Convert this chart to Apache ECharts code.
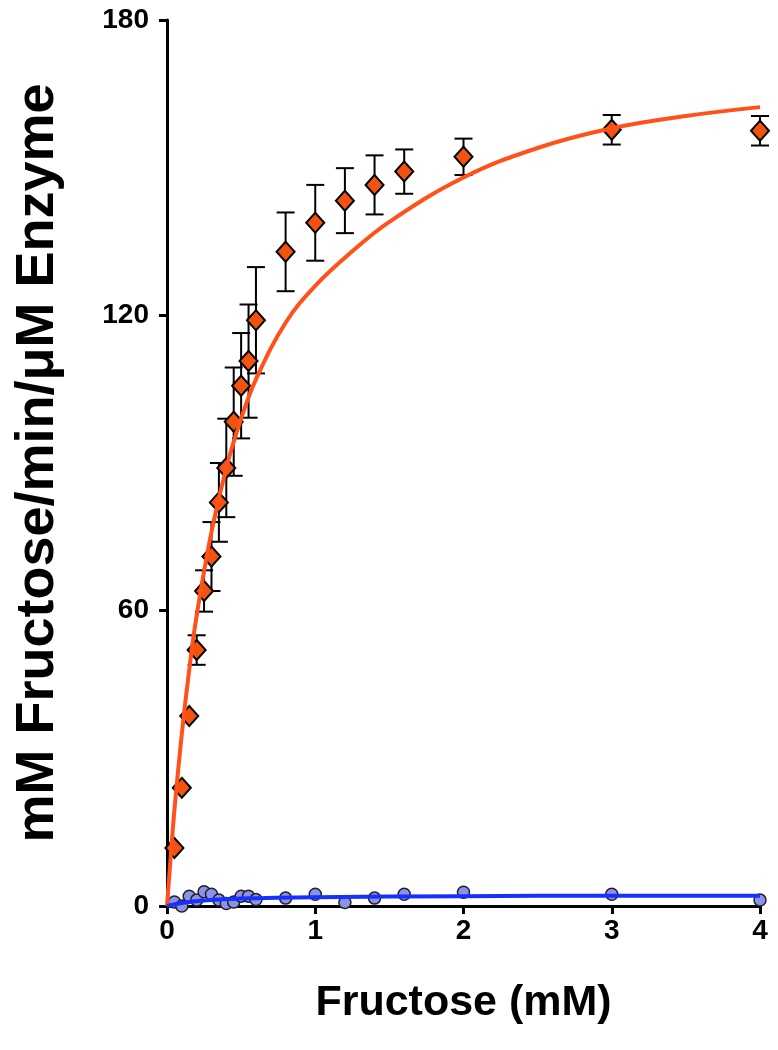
<!DOCTYPE html>
<html>
<head>
<meta charset="utf-8">
<script src="https://cdn.jsdelivr.net/npm/echarts@6/dist/echarts.min.js"></script>
<style>html,body{margin:0;padding:0;background:#fff}#c{width:778px;height:1050px}</style>
</head>
<body>
<div id="c"></div>
<script>
// Orange diamonds with error bars
const orangeX = [0.05,0.1,0.15,0.2,0.25,0.3,0.35,0.4,0.45,0.5,0.55,0.6,0.8,1.0,1.2,1.4,1.6,2,3,4];
const orangeY = [11.8,24,38.6,52,64,71,82,89,98.4,105.7,110.7,119,132.9,138.8,143.3,146.5,149.2,152.2,157.7,157.5];
const orangeErr = [0,0,0,3,4.2,7,8,10,11,10.7,11.5,10.8,8,7.7,6.6,6,4.5,3.7,3,3];
// Fitted curve
const orangeFitX = [0,0.03,0.05,0.1,0.15,0.2,0.3,0.4,0.5,0.6,0.8,1.0,1.25,1.5,2,2.5,3,3.5,4];
const orangeFitY = [0,12,19.5,35,48,59,76,89,99,107,118.5,126,133,139,148,154,158,160.5,162.3];
// Blue circles
const blueX = [0.05,0.1,0.15,0.2,0.25,0.3,0.35,0.4,0.45,0.5,0.55,0.6,0.8,1.0,1.2,1.4,1.6,2,3,4];
const blueY = [0.8,0,2.0,1.2,2.9,2.4,1.2,0.5,0.8,2.0,2.0,1.3,1.6,2.4,0.7,1.6,2.4,2.8,2.4,1.2];
const blueFitX = [0,0.1,0.25,0.5,1,2,3,4];
const blueFitY = [0,0.6,1.1,1.5,1.8,2.0,2.1,2.1];
// Axes
const xTicks = [0,1,2,3,4];
const yTicks = [0,60,120,180];

const FONT = '"Liberation Sans", Arial, sans-serif';
const chart = echarts.init(document.getElementById('c'));
const pair = (xs, ys) => xs.map((x, i) => [x, ys[i]]);
const errData = orangeX.map((x, i) => [x, orangeY[i] - orangeErr[i], orangeY[i] + orangeErr[i]]);

chart.setOption({
  animation: false,
  backgroundColor: '#fff',
  grid: {left: 167, right: 18, top: 20, bottom: 144},
  xAxis: {
    type: 'value', min: xTicks[0], max: xTicks[xTicks.length-1], interval: 1,
    name: 'Fructose (mM)', nameLocation: 'middle', nameGap: 76,
    nameTextStyle: {fontFamily: FONT, fontWeight: 'bold', fontSize: 43, color: '#000'},
    axisLine: {lineStyle: {color: '#000', width: 3}},
    axisTick: {inside: false, length: 8, lineStyle: {color: '#000', width: 3}},
    axisLabel: {fontFamily: FONT, fontWeight: 'bold', fontSize: 28, color: '#000', margin: 11},
    splitLine: {show: false}
  },
  yAxis: {
    type: 'value', min: yTicks[0], max: yTicks[yTicks.length-1], interval: 60,
    name: 'mM Fructose/min/μM Enzyme', nameLocation: 'middle', nameGap: 102,
    nameTextStyle: {fontFamily: FONT, fontWeight: 'bold', fontSize: 54, color: '#000'},
    axisLine: {lineStyle: {color: '#000', width: 3}},
    axisTick: {inside: false, length: 8, lineStyle: {color: '#000', width: 3}},
    axisLabel: {fontFamily: FONT, fontWeight: 'bold', fontSize: 28, color: '#000', margin: 18},
    splitLine: {show: false}
  },
  series: [
    {
      type: 'custom', z: 2,
      data: errData,
      renderItem: function (params, api) {
        const x = api.value(0);
        const lo = api.coord([x, api.value(1)]);
        const hi = api.coord([x, api.value(2)]);
        const w = 9;
        const st = {stroke: '#000', lineWidth: 2};
        return {type: 'group', children: [
          {type: 'line', shape: {x1: lo[0], y1: lo[1], x2: hi[0], y2: hi[1]}, style: st},
          {type: 'line', shape: {x1: lo[0]-w, y1: lo[1], x2: lo[0]+w, y2: lo[1]}, style: st},
          {type: 'line', shape: {x1: hi[0]-w, y1: hi[1], x2: hi[0]+w, y2: hi[1]}, style: st}
        ]};
      }
    },
    {
      type: 'scatter', z: 3, symbol: 'diamond', symbolSize: [18, 20],
      data: pair(orangeX, orangeY),
      itemStyle: {color: '#F2530F', borderColor: '#000', borderWidth: 2, opacity: 1}
    },
    {
      type: 'scatter', z: 3, symbol: 'circle', symbolSize: 12,
      data: pair(blueX, blueY),
      itemStyle: {color: '#8C92EA', borderColor: '#222', borderWidth: 1.5, opacity: 1}
    },
    {
      type: 'line', z: 4, smooth: 0.4, symbol: 'none',
      data: pair(orangeFitX, orangeFitY),
      lineStyle: {color: '#FF5119', width: 4}
    },
    {
      type: 'line', z: 4, smooth: 0.4, symbol: 'none',
      data: pair(blueFitX, blueFitY),
      lineStyle: {color: '#1530FF', width: 4}
    }
  ]
});
</script>
</body>
</html>
